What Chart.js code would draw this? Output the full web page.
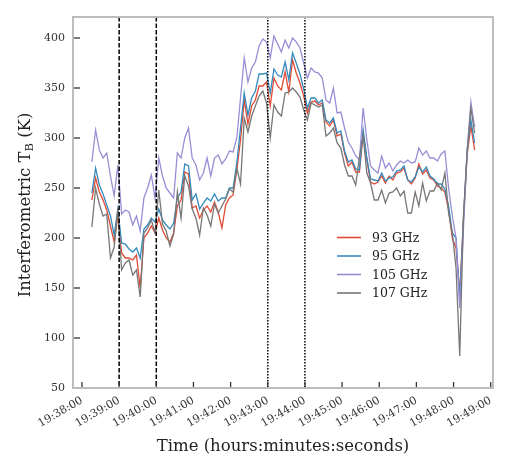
<!DOCTYPE html>
<html><head><meta charset="utf-8">
<script src="https://cdn.jsdelivr.net/npm/chart.js@4"></script>
<style>html,body{margin:0;padding:0;background:#fff;} #wrap{width:511px;height:474px;position:relative;}</style>
</head><body><div id="wrap"><canvas id="c"></canvas></div>
<script>
// ---- data ----
const startTime = '19:38:16';
const cadenceSec = 6;
const seriesLabels = ['93 GHz', '95 GHz', '105 GHz', '107 GHz'];
const f93 = [238,260,246,238,228,212,196,222,185,180,180,178,183,150,200,205,212,205,220,208,
 200,196,205,232,238,266,264,230,232,220,228,232,226,236,226,210,233,240,243,268,
 298,338,314,332,338,352,352,356,332,360,352,348,366,346,378,365,355,342,325,336,
 337,333,335,316,312,318,302,304,285,272,276,266,266,305,278,256,254,256,262,255,
 262,258,265,266,270,258,254,260,274,264,268,260,258,252,250,246,228,200,190,145,
 218,284,312,288];
const f95 = [245,270,253,244,233,222,203,229,195,194,189,186,190,180,209,213,220,216,229,218,
 213,209,215,240,246,274,272,238,244,229,235,240,237,244,237,240,240,250,250,275,
 310,345,323,340,347,364,364,365,345,369,363,361,376,358,385,375,364,349,330,340,
 340,335,338,318,315,320,305,307,287,276,278,269,268,308,280,259,258,257,265,257,
 260,261,267,268,272,258,256,261,271,266,271,262,259,254,254,249,232,205,200,138,
 220,288,318,295];
const f105 = [276,308,288,280,285,262,242,273,224,228,226,213,222,207,240,250,263,240,280,262,
 250,245,240,285,280,300,310,280,273,258,265,280,262,280,283,274,279,287,286,300,
 340,380,356,370,376,392,399,396,380,402,394,386,398,390,400,396,390,375,360,370,
 366,365,360,338,335,350,325,326,310,296,290,282,278,330,298,272,268,265,282,270,
 275,267,273,277,275,278,275,276,290,283,287,280,280,277,284,287,250,222,200,130,
 210,288,336,311];
const f107 = [211,250,234,222,224,180,191,230,168,175,178,163,168,141,205,210,218,205,248,214,
 207,192,204,246,220,262,252,229,220,203,230,223,212,234,225,232,239,249,246,270,
 254,320,306,322,332,342,347,335,300,333,326,322,345,346,350,346,341,328,318,335,
 333,331,333,302,305,310,295,290,273,262,262,253,281,302,265,255,238,238,248,235,
 245,246,250,242,247,225,225,246,232,255,237,247,247,255,248,265,225,205,170,82,
 222,286,330,305];
const xTickLabels = ['19:38:00','19:39:00','19:40:00','19:41:00','19:42:00','19:43:00',
 '19:44:00','19:45:00','19:46:00','19:47:00','19:48:00','19:49:00'];
const yTicks = [50, 100, 150, 200, 250, 300, 350, 400];
const dashedTimes = ['19:39:00', '19:40:00'];
const dottedTimes = ['19:43:00', '19:44:00'];
const xRange = ['19:37:45.5', '19:49:03.7'];
const yRange = [50, 421];

// ---- helpers ----
const seriesColors = ['#E24A33', '#348ABD', '#988ED5', '#777777'];
const toSec = s => { const p = s.split(':').map(Number); return p[0]*3600 + p[1]*60 + p[2]; };
const fmt = v => { const s = Math.round(v); const h = Math.floor(s/3600), m = Math.floor((s%3600)/60), ss = s%60;
  return [h, m, ss].map(n => String(n).padStart(2, '0')).join(':'); };
const t0 = toSec(startTime);
const times = f93.map((_, i) => t0 + i*cadenceSec);
const toPts = arr => arr.map((v, i) => ({x: times[i], y: v}));
const allSeries = [f93, f95, f105, f107];

const SERIF = "'DejaVu Serif', serif";
Chart.defaults.font.family = SERIF;
Chart.defaults.color = '#333';

const decor = {
  id: 'decor',
  afterDatasetsDraw(chart) {
    const {ctx, chartArea: a, scales: {x}} = chart;
    ctx.save();
    ctx.strokeStyle = '#000';
    ctx.lineWidth = 1.5;
    const vline = (t, dash) => {
      const px = x.getPixelForValue(toSec(t));
      ctx.setLineDash(dash);
      ctx.beginPath(); ctx.moveTo(px, a.top); ctx.lineTo(px, a.bottom); ctx.stroke();
    };
    dashedTimes.forEach(t => vline(t, [4.5, 2]));
    dottedTimes.forEach(t => vline(t, [1.5, 1.5]));
    ctx.restore();
  },
  afterDraw(chart) {
    const {ctx, chartArea: a, scales: {x, y}} = chart;
    ctx.save();
    // inward tick marks
    ctx.strokeStyle = '#333'; ctx.lineWidth = 1.3; ctx.setLineDash([]);
    yTicks.forEach(v => { const py = y.getPixelForValue(v);
      ctx.beginPath(); ctx.moveTo(a.left, py); ctx.lineTo(a.left + 7, py); ctx.stroke(); });
    xTickLabels.forEach(t => { const px = x.getPixelForValue(toSec(t));
      ctx.beginPath(); ctx.moveTo(px, a.bottom); ctx.lineTo(px, a.bottom - 6); ctx.stroke(); });
    // frame
    ctx.strokeStyle = '#bdbdbd'; ctx.lineWidth = 2;
    ctx.strokeRect(a.left, a.top, a.right - a.left, a.bottom - a.top);
    // y title with subscript
    const big = '16.5px ' + SERIF, small = '11.5px ' + SERIF;
    const p1 = 'Interferometric T', p2 = 'B', p3 = ' (K)';
    ctx.font = big; const w1 = ctx.measureText(p1).width, w3 = ctx.measureText(p3).width;
    ctx.font = small; const w2 = ctx.measureText(p2).width;
    const tot = w1 + w2 + w3;
    ctx.translate(26, 205);
    ctx.rotate(-Math.PI / 2);
    ctx.fillStyle = '#222'; ctx.textBaseline = 'middle'; ctx.textAlign = 'left';
    let cx = -tot / 2;
    ctx.font = big; ctx.fillText(p1, cx, 0); cx += w1;
    ctx.font = small; ctx.fillText(p2, cx, 4.5); cx += w2;
    ctx.font = big; ctx.fillText(p3, cx, 0);
    ctx.setTransform(1, 0, 0, 1, 0, 0);
    // legend
    ctx.font = '12.5px ' + SERIF; ctx.textBaseline = 'middle'; ctx.textAlign = 'left';
    chart.data.datasets.forEach((ds, i) => {
      const ly = 237.5 + i * 18.5;
      ctx.strokeStyle = ds.borderColor; ctx.lineWidth = 1.6;
      ctx.beginPath(); ctx.moveTo(337, ly); ctx.lineTo(361, ly); ctx.stroke();
      ctx.fillStyle = '#222'; ctx.fillText(ds.label, 372, ly + 1);
    });
    ctx.restore();
  }
};

new Chart(document.getElementById('c'), {
  type: 'line',
  data: {
    datasets: allSeries.map((s, i) => ({
      label: seriesLabels[i], data: toPts(s), borderColor: seriesColors[i], backgroundColor: seriesColors[i],
      borderWidth: 1.3, pointRadius: 0, tension: 0, fill: false, order: allSeries.length - 1 - i
    }))
  },
  options: {
    responsive: true, maintainAspectRatio: false, animation: false,
    layout: {padding: {top: 17, right: 18, left: 0, bottom: 0}},
    plugins: {legend: {display: false}, tooltip: {enabled: false}},
    scales: {
      x: {
        type: 'linear', min: toSec(xRange[0]), max: toSec(xRange[1]),
        afterBuildTicks: s => { s.ticks = xTickLabels.map(t => ({value: toSec(t)})); },
        afterFit: s => { s.height = 86; },
        grid: {display: false, drawTicks: false},
        border: {display: false},
        ticks: {callback: v => fmt(v), minRotation: 30, maxRotation: 30, padding: 6, autoSkip: false,
          font: {size: 11}, color: '#333'},
        title: {display: true, text: 'Time (hours:minutes:seconds)', font: {size: 16.5}, color: '#222',
          padding: {top: 0, bottom: 17}}
      },
      y: {
        min: yRange[0], max: yRange[1],
        afterBuildTicks: s => { s.ticks = yTicks.map(v => ({value: v})); },
        afterFit: s => { s.width = 73; },
        grid: {display: false, drawTicks: false},
        border: {display: false},
        ticks: {padding: 8, font: {size: 11}, color: '#333'}
      }
    }
  },
  plugins: [decor]
});
</script>
</body></html>
